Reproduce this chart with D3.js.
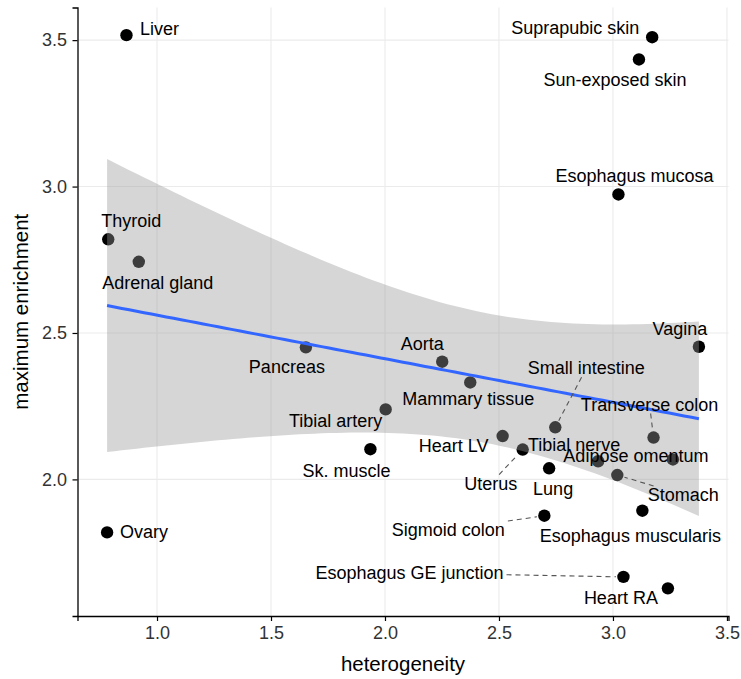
<!DOCTYPE html>
<html>
<head>
<meta charset="utf-8">
<script src="https://cdn.jsdelivr.net/npm/d3@7"></script>
<style>
  body { margin: 0; background: #fff; }
  text { font-family: "Liberation Sans", Arial, Helvetica, sans-serif; }
</style>
</head>
<body>
<svg id="canvas" width="741" height="679"></svg>
<script>
// tissues
const tissues = ['Liver', 'Suprapubic skin', 'Sun-exposed skin', 'Esophagus mucosa', 'Thyroid',
    'Adrenal gland', 'Pancreas', 'Vagina', 'Aorta', 'Mammary tissue', 'Small intestine',
    'Tibial artery', 'Transverse colon', 'Heart LV', 'Uterus', 'Tibial nerve', 'Sk. muscle',
    'Lung', 'Adipose omentum', 'Stomach', 'Esophagus muscularis', 'Sigmoid colon', 'Ovary',
    'Esophagus GE junction', 'Heart RA']

const heterogeneity = [0.866, 3.172, 3.114, 3.024, 0.786,
    0.920, 1.653, 3.377, 2.251, 2.374, 2.747,
    2.003, 3.178, 2.516, 2.604, 2.935, 1.936,
    2.720, 3.263, 3.019, 3.129, 2.699, 0.781,
    3.046, 3.241]

const maxEnrichment = [3.517, 3.510, 3.434, 2.973, 2.820,
    2.743, 2.451, 2.453, 2.402, 2.331, 2.178,
    2.239, 2.143, 2.148, 2.102, 2.062, 2.103,
    2.038, 2.068, 2.015, 1.893, 1.876, 1.819,
    1.667, 1.628]

const xTicks = [1.0, 1.5, 2.0, 2.5, 3.0, 3.5]
const yTicks = [2.0, 2.5, 3.0, 3.5]

// label placement (pixel offset of label centre from its point), like ggrepel put them
const labelNudge = {
    'Liver': [33, -6], 'Suprapubic skin': [-77, -9], 'Sun-exposed skin': [-24, 21],
    'Esophagus mucosa': [16, -18], 'Thyroid': [23, -18], 'Adrenal gland': [19, 21],
    'Pancreas': [-19, 20], 'Vagina': [-19, -18], 'Aorta': [-20, -18],
    'Mammary tissue': [-2, 17], 'Small intestine': [31, -59], 'Tibial artery': [-50, 12],
    'Transverse colon': [-4, -33], 'Heart LV': [-49, 10], 'Uterus': [-32, 34],
    'Tibial nerve': [-24, -16], 'Sk. muscle': [-24, 22], 'Lung': [4, 21],
    'Adipose omentum': [-37, -3], 'Stomach': [66, 20], 'Esophagus muscularis': [-12, 25],
    'Sigmoid colon': [-96, 14], 'Ovary': [37, 0], 'Esophagus GE junction': [-214, -4],
    'Heart RA': [-47, 10]
}
const withSegment = ['Small intestine', 'Transverse colon', 'Uterus', 'Stomach',
    'Sigmoid colon', 'Esophagus GE junction']

const tQuantile = 2.069 // t(0.975, df = 23)

let data = tissues.map((name, i) => {
    return { name: name, x: heterogeneity[i], y: maxEnrichment[i] }
})

let canvas = d3.select('#canvas')

// ggplot style 5% expansion
let expand = (ext) => {
    let r = ext[1] - ext[0]
    return [ext[0] - 0.05 * r, ext[1] + 0.05 * r]
}

let xScale = d3.scaleLinear()
    .domain(expand(d3.extent(heterogeneity)))
    .range([77.5, 728.5])
let yScale = d3.scaleLinear()
    .domain(expand(d3.extent(maxEnrichment)))
    .range([616, 7.5])

let panelLeft = xScale.range()[0], panelRight = xScale.range()[1]
let panelTop = yScale.range()[1], panelBottom = yScale.range()[0]

// grid
canvas.append('g').selectAll('line')
    .data(xTicks)
    .enter()
    .append('line')
    .attr('x1', (d) => xScale(d)).attr('x2', (d) => xScale(d))
    .attr('y1', panelTop).attr('y2', panelBottom)
    .attr('stroke', '#ebebeb').attr('stroke-width', 1.1)
canvas.append('g').selectAll('line')
    .data(yTicks)
    .enter()
    .append('line')
    .attr('y1', (d) => yScale(d)).attr('y2', (d) => yScale(d))
    .attr('x1', panelLeft).attr('x2', panelRight)
    .attr('stroke', '#ebebeb').attr('stroke-width', 1.1)

// points (drawn under the ribbon)
canvas.append('g').selectAll('circle')
    .data(data)
    .enter()
    .append('circle')
    .attr('cx', (d) => xScale(d.x))
    .attr('cy', (d) => yScale(d.y))
    .attr('r', 6.2)
    .attr('fill', '#000')

// linear fit with 95% confidence band
let n = data.length
let xbar = d3.mean(heterogeneity), ybar = d3.mean(maxEnrichment)
let sxx = d3.sum(heterogeneity, (x) => (x - xbar) * (x - xbar))
let sxy = d3.sum(data, (d) => (d.x - xbar) * (d.y - ybar))
let slope = sxy / sxx
let intercept = ybar - slope * xbar
let sse = d3.sum(data, (d) => Math.pow(d.y - (intercept + slope * d.x), 2))
let sigma = Math.sqrt(sse / (n - 2))

let xMin = d3.min(heterogeneity), xMax = d3.max(heterogeneity)
let fit = d3.range(0, 81).map((i) => {
    let x = xMin + (xMax - xMin) * i / 80
    let yhat = intercept + slope * x
    let se = sigma * Math.sqrt(1 / n + (x - xbar) * (x - xbar) / sxx)
    return { x: x, y: yhat, lo: yhat - tQuantile * se, hi: yhat + tQuantile * se }
})

canvas.append('path')
    .datum(fit)
    .attr('d', d3.area()
        .x((d) => xScale(d.x))
        .y0((d) => yScale(d.lo))
        .y1((d) => yScale(d.hi)))
    .attr('fill', '#999999')
    .attr('fill-opacity', 0.4)

canvas.append('path')
    .datum(fit)
    .attr('d', d3.line()
        .x((d) => xScale(d.x))
        .y((d) => yScale(d.y)))
    .attr('fill', 'none')
    .attr('stroke', '#3366FF')
    .attr('stroke-width', 3)

// labels
let labels = canvas.append('g')
    .selectAll('text')
    .data(data)
    .enter()
    .append('text')
    .attr('x', (d) => xScale(d.x) + labelNudge[d.name][0])
    .attr('y', (d) => yScale(d.y) + labelNudge[d.name][1])
    .attr('text-anchor', 'middle')
    .attr('dominant-baseline', 'central')
    .attr('font-size', '18px')
    .attr('fill', '#000')
    .text((d) => d.name)

// dashed segments from label box to point
let boxes = {}
labels.each(function (d) { boxes[d.name] = this.getBBox() })

canvas.append('g').selectAll('line')
    .data(data.filter((d) => withSegment.includes(d.name)))
    .enter()
    .append('line')
    .each(function (d) {
        let b = boxes[d.name]
        let cx = b.x + b.width / 2, cy = b.y + b.height / 2
        let px = xScale(d.x), py = yScale(d.y)
        let dx = px - cx, dy = py - cy
        let hw = b.width / 2 + 3, hh = b.height / 2 - 1
        let t = Math.min(Math.abs(dx) > 0 ? hw / Math.abs(dx) : Infinity,
            Math.abs(dy) > 0 ? hh / Math.abs(dy) : Infinity)
        let len = Math.sqrt(dx * dx + dy * dy)
        let s = 1 - 7.5 / len
        d3.select(this)
            .attr('x1', cx + dx * t).attr('y1', cy + dy * t)
            .attr('x2', cx + dx * s).attr('y2', cy + dy * s)
    })
    .attr('stroke', '#555')
    .attr('stroke-width', 1.1)
    .attr('stroke-dasharray', '5,4')

// axes
canvas.append('g')
    .attr('transform', 'translate(0,' + panelBottom + ')')
    .call(d3.axisBottom(xScale).tickValues(xTicks).tickFormat(d3.format('.1f'))
        .tickSizeOuter(0).tickSize(5).tickPadding(5.5))
canvas.append('g')
    .attr('transform', 'translate(' + panelLeft + ',0)')
    .call(d3.axisLeft(yScale).tickValues(yTicks).tickFormat(d3.format('.1f'))
        .tickSizeOuter(0).tickSize(5).tickPadding(5.5))

canvas.selectAll('.domain').attr('stroke', '#000').attr('stroke-width', 1.3)
canvas.selectAll('.tick line').attr('stroke', '#000').attr('stroke-width', 1.2)
canvas.selectAll('.tick text')
    .attr('font-size', '18px')
    .attr('fill', '#333')
    .attr('font-family', '"Liberation Sans", Arial, sans-serif')

canvas.append('text')
    .attr('x', (panelLeft + panelRight) / 2)
    .attr('y', 671)
    .attr('text-anchor', 'middle')
    .attr('font-size', '20.5px')
    .text('heterogeneity')

canvas.append('text')
    .attr('transform', 'translate(27.5,' + (panelTop + panelBottom) / 2 + ') rotate(-90)')
    .attr('text-anchor', 'middle')
    .attr('font-size', '20.5px')
    .text('maximum enrichment')
</script>
</body>
</html>
